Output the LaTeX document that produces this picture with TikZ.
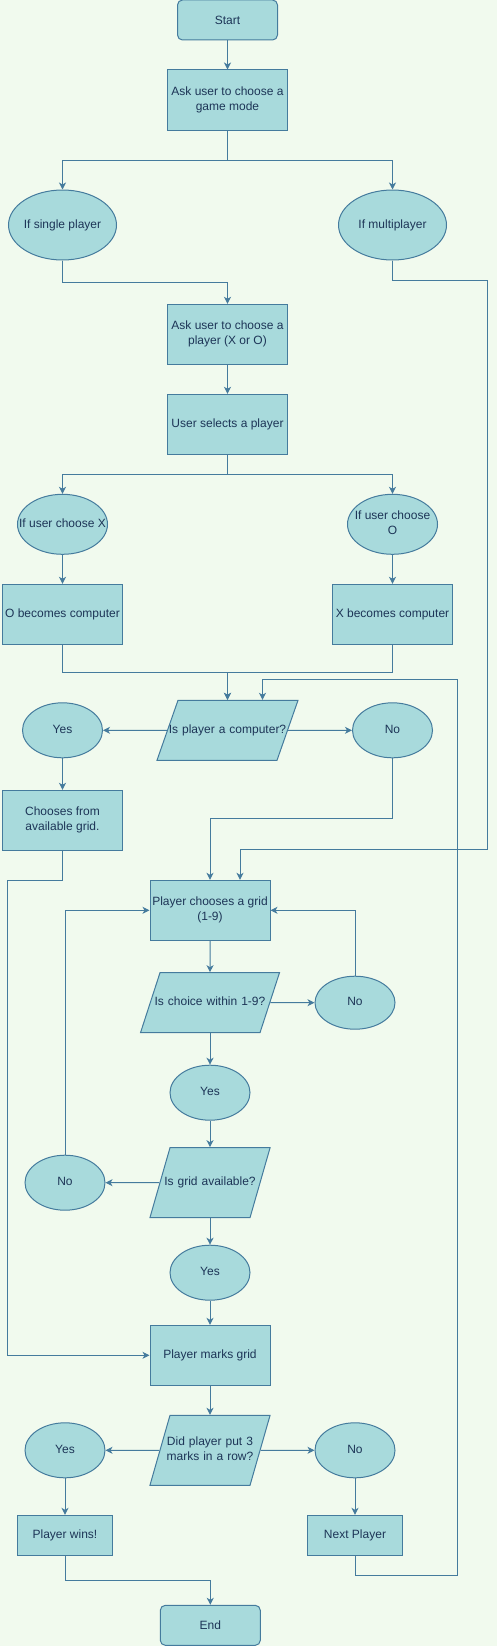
\documentclass[tikz,border=0pt]{standalone}
\usepackage{fontspec}
\setmainfont{Liberation Sans}
\usepackage{tikz}
\usetikzlibrary{shapes.geometric, arrows.meta, positioning}
\usepackage{xcolor}
\definecolor{paper}{HTML}{F1FAEE}
\definecolor{boxfill}{HTML}{A8DADC}
\definecolor{edge}{HTML}{457B9D}
\definecolor{ink}{HTML}{1D3557}
\newcommand{\inshape}[1]{\makebox[0pt]{\begin{tabular}{@{}c@{}}#1\end{tabular}}}
\tikzstyle{terminal} = [rectangle, rounded corners=5pt, minimum width=100pt, minimum height=40pt,
                        text centered, align=center, draw=edge, line width=1pt, fill=boxfill, text=ink,
                        font=\fontsize{12}{15}\selectfont]
\tikzstyle{process}  = [rectangle, minimum width=120pt, minimum height=60pt, inner sep=1pt,
                        text centered, align=center, draw=edge, line width=1pt, fill=boxfill, text=ink,
                        font=\fontsize{12}{15}\selectfont]
\tikzstyle{choice}   = [ellipse, minimum width=80pt, minimum height=55pt, inner sep=0pt,
                        draw=edge, line width=1pt, fill=boxfill, text=ink, font=\fontsize{12}{15}\selectfont]
\tikzstyle{decision} = [trapezium, trapezium left angle=70.7, trapezium right angle=109.3,
                        text width=99pt, text height=33pt, text depth=27pt, inner sep=0pt, align=center,
                        draw=edge, line width=1pt, fill=boxfill, text=ink, font=\fontsize{12}{15}\selectfont]
\tikzstyle{tall}     = [trapezium left angle=74, trapezium right angle=106,
                        text width=80pt, text height=38pt, text depth=32pt]
\tikzstyle{arrow}    = [draw=edge, line width=1pt, -{Stealth[length=7pt, width=7pt, inset=2pt]}]

\begin{document}
\begin{tikzpicture}[x=1pt, y=1pt, node distance=90pt]
  \fill[paper] (0,0) rectangle (497,-1646);
  \useasboundingbox (0,0) rectangle (497,-1646);

  \node (start)  [terminal] at (227.5,-20) {Start};
  \node (mode)   [process, below of=start, yshift=10pt] {Ask user to choose a\\game mode};
  \node (single) [choice, minimum width=108pt, minimum height=70pt, below of=mode,
                  xshift=-165pt, yshift=-35pt] {\inshape{If single player}};
  \node (multi)  [choice, minimum width=108pt, minimum height=70pt, right of=single,
                  xshift=240pt] {\inshape{If multiplayer}};
  \node (askpl)  [process, below of=mode, yshift=-144.3pt] {Ask user to choose a\\player (X or O)};
  \node (select) [process, below of=askpl] {User selects a player};
  \node (ifx)    [choice, minimum width=90pt, minimum height=60pt, below of=select,
                  xshift=-165pt, yshift=-10pt] {\inshape{If user choose X}};
  \node (ifo)    [choice, minimum width=90pt, minimum height=60pt, right of=ifx,
                  xshift=240pt] {\inshape{If user choose\\O}};
  \node (ocomp)  [process, below of=ifx] {O becomes computer};
  \node (xcomp)  [process, below of=ifo] {X becomes computer};
  \node (iscomp) [decision, below of=ocomp, xshift=165pt, yshift=-26pt] {\inshape{Is player a computer?}};
  \node (yes1)   [choice, left of=iscomp, xshift=-75pt] {\inshape{Yes}};
  \node (no1)    [choice, right of=iscomp, xshift=75pt] {\inshape{No}};
  \node (cpu)    [process, below of=yes1] {Chooses from\\available grid.};
  \node (pick)   [process, below of=cpu, xshift=147.5pt] {Player chooses a grid\\(1-9)};
  \node (range)  [decision, text width=100pt, trapezium left angle=72, trapezium right angle=108,
                  below of=pick, yshift=-2.4pt] {\inshape{Is choice within 1-9?}};
  \node (no2)    [choice, minimum height=53pt, right of=range, xshift=55pt] {\inshape{No}};
  \node (yes2)   [choice, below of=range] {\inshape{Yes}};
  \node (free)   [decision, tall, below of=yes2] {\inshape{Is grid available?}};
  \node (no3)    [choice, left of=free, xshift=-55pt] {\inshape{No}};
  \node (yes3)   [choice, below of=free] {\inshape{Yes}};
  \node (mark)   [process, below of=yes3, yshift=7.4pt] {Player marks grid};
  \node (row)    [decision, tall, below of=mark, yshift=-5pt] {\inshape{Did player put 3\\marks in a row?}};
  \node (yes4)   [choice, left of=row, xshift=-55pt] {\inshape{Yes}};
  \node (no4)    [choice, right of=row, xshift=55pt] {\inshape{No}};
  \node (wins)   [process, minimum width=95pt, minimum height=40pt, below of=yes4, yshift=5pt] {Player wins!};
  \node (next)   [process, minimum width=95pt, minimum height=40pt, below of=no4, yshift=5pt] {Next Player};
  \node (end)    [terminal, below of=wins, xshift=145.3pt] {End};

  \draw[arrow] (start) -- (mode);
  \draw[arrow] (mode.south) -- ++(0,-30) -| (single.north);
  \draw[arrow] (mode.south) -- ++(0,-30) -| (multi.north);
  \draw[arrow] (single.south) -- ++(0,-22) -| (askpl.north);
  \draw[arrow] (multi.south) -- ++(0,-20) -- ++(95,0) |- ([xshift=30pt, yshift=30pt]pick.north)
               -- ([xshift=30pt]pick.north);
  \draw[arrow] (askpl) -- (select);
  \draw[arrow] (select.south) -- ++(0,-20) -| (ifx.north);
  \draw[arrow] (select.south) -- ++(0,-20) -| (ifo.north);
  \draw[arrow] (ifx) -- (ocomp);
  \draw[arrow] (ifo) -- (xcomp);
  \draw[arrow] (ocomp.south) -- ++(0,-28) -| (iscomp.north);
  \draw[arrow] (xcomp.south) -- ++(0,-28) -| (iscomp.north);
  \draw[arrow] (next.south) -- ++(0,-20) -- ++(102.3,0) |- ([xshift=35pt, yshift=20pt]iscomp.north)
               -- ([xshift=35pt]iscomp.north);
  \draw[arrow] (iscomp.west) -- (yes1.east);
  \draw[arrow] (iscomp.east) -- (no1.west);
  \draw[arrow] (yes1) -- (cpu);
  \draw[arrow] (no1.south) -- ++(0,-60.6) -| (pick.north);
  \draw[arrow] (cpu.south) -- ++(0,-30) -- ++(-55.2,0) |- (mark.west);
  \draw[arrow] (pick) -- (range);
  \draw[arrow] (range.east) -- (no2.west);
  \draw[arrow] (no2.north) |- (pick.east);
  \draw[arrow] (range) -- (yes2);
  \draw[arrow] (yes2) -- (free);
  \draw[arrow] (free.west) -- (no3.east);
  \draw[arrow] (no3.north) |- (pick.west);
  \draw[arrow] (free) -- (yes3);
  \draw[arrow] (yes3) -- (mark);
  \draw[arrow] (mark) -- (row);
  \draw[arrow] (row.west) -- (yes4.east);
  \draw[arrow] (row.east) -- (no4.west);
  \draw[arrow] (yes4) -- (wins);
  \draw[arrow] (no4) -- (next);
  \draw[arrow] (wins.south) -- ++(0,-25) -| (end.north);
\end{tikzpicture}
\end{document}
